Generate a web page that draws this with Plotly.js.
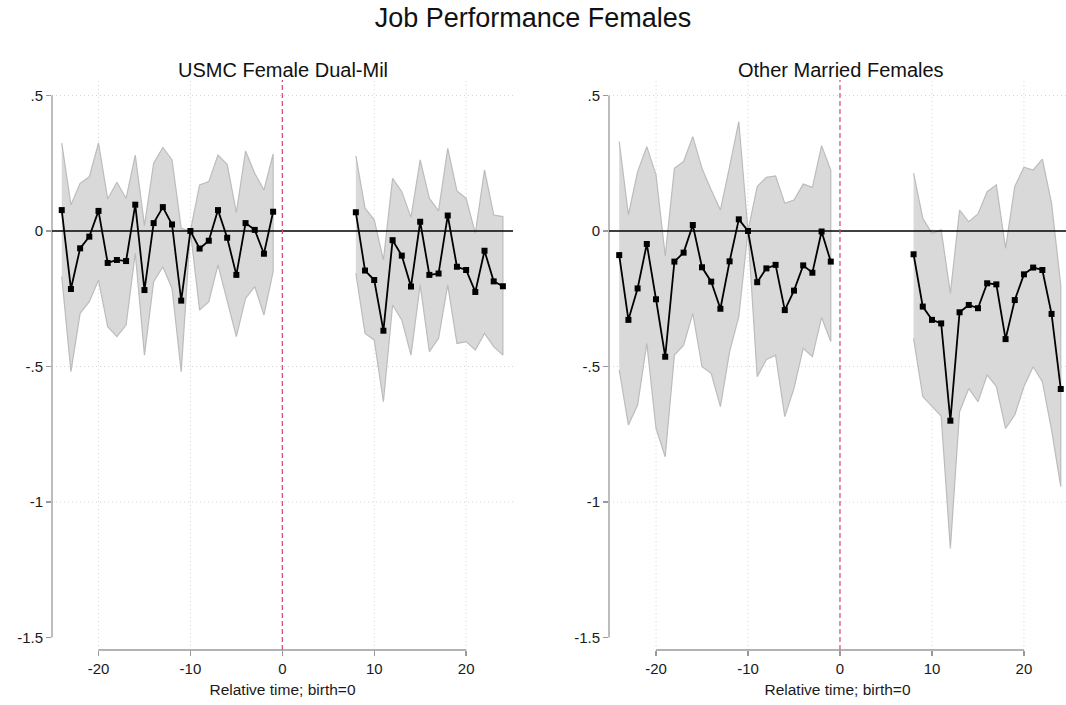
<!DOCTYPE html>
<html>
<head>
<meta charset="utf-8">
<script src="https://cdn.plot.ly/plotly-3.0.1.min.js"></script>
<style>html,body{margin:0;padding:0;background:#fff;}#chart{width:1066px;height:705px;}</style>
</head>
<body>
<div id="chart"></div>
<script>
// ---- Data ----
const relTimePre  = [-24,-23,-22,-21,-20,-19,-18,-17,-16,-15,-14,-13,-12,-11,-10,-9,-8,-7,-6,-5,-4,-3,-2,-1];
const relTimePost = [8,9,10,11,12,13,14,15,16,17,18,19,20,21,22,23,24];

// USMC Female Dual-Mil
const dualPreCoef = [0.077,-0.214,-0.064,-0.021,0.074,-0.118,-0.107,-0.111,0.097,-0.218,0.029,0.088,0.024,-0.257,0.000,-0.065,-0.036,0.077,-0.025,-0.162,0.029,0.004,-0.084,0.071];
const dualPreHi   = [0.324,0.096,0.176,0.200,0.324,0.118,0.180,0.120,0.280,0.020,0.250,0.308,0.262,0.010,0.000,0.170,0.182,0.280,0.246,0.068,0.295,0.213,0.151,0.284];
const dualPreLo   = [-0.168,-0.519,-0.304,-0.261,-0.181,-0.353,-0.390,-0.347,-0.082,-0.458,-0.187,-0.132,-0.212,-0.519,0.000,-0.292,-0.261,-0.125,-0.255,-0.390,-0.249,-0.205,-0.310,-0.150];
const dualPostCoef = [0.069,-0.146,-0.181,-0.368,-0.034,-0.091,-0.205,0.034,-0.162,-0.157,0.057,-0.132,-0.144,-0.225,-0.073,-0.186,-0.204];
const dualPostHi   = [0.277,0.084,0.041,-0.107,0.194,0.145,0.050,0.262,0.120,0.074,0.305,0.148,0.120,-0.009,0.225,0.059,0.053];
const dualPostLo   = [-0.156,-0.378,-0.402,-0.630,-0.273,-0.328,-0.458,-0.199,-0.445,-0.396,-0.199,-0.415,-0.408,-0.439,-0.378,-0.427,-0.458];

// Other Married Females
const othPreCoef = [-0.089,-0.328,-0.212,-0.048,-0.252,-0.464,-0.113,-0.080,0.022,-0.134,-0.187,-0.287,-0.112,0.043,0.000,-0.189,-0.138,-0.125,-0.292,-0.220,-0.127,-0.154,-0.002,-0.113];
const othPreHi   = [0.330,0.059,0.219,0.311,0.207,-0.092,0.231,0.256,0.348,0.231,0.151,0.077,0.237,0.403,0.000,0.164,0.198,0.203,0.102,0.114,0.173,0.161,0.315,0.225];
const othPreLo   = [-0.513,-0.716,-0.642,-0.415,-0.728,-0.833,-0.458,-0.421,-0.304,-0.501,-0.525,-0.648,-0.445,-0.316,0.000,-0.538,-0.474,-0.458,-0.685,-0.581,-0.433,-0.464,-0.319,-0.408];
const othPostCoef = [-0.086,-0.279,-0.328,-0.341,-0.700,-0.300,-0.273,-0.285,-0.193,-0.197,-0.399,-0.255,-0.160,-0.135,-0.144,-0.306,-0.583];
const othPostHi   = [0.213,0.047,-0.009,0.004,-0.230,0.077,0.034,0.063,0.145,0.170,-0.064,0.164,0.235,0.225,0.265,0.102,-0.199];
const othPostLo   = [-0.396,-0.611,-0.648,-0.683,-1.171,-0.667,-0.581,-0.630,-0.531,-0.574,-0.728,-0.679,-0.574,-0.501,-0.556,-0.734,-0.943];

const xTicks = [-20,-10,0,10,20];
const yTicks = [-1.5,-1,-0.5,0,0.5];
const yTickText = ['-1.5','-1','-.5','0','.5'];
const xGrid = [-20,-10,10,20];
const yGrid = [-1,-0.5,0.5];

const mainTitle = 'Job Performance Females';
const panelTitles = ['USMC Female Dual-Mil','Other Married Females'];
const xTitle = 'Relative time; birth=0';

// ---- Build traces ----
const FONT = 'Arial, "Liberation Sans", Helvetica, sans-serif';
function band(x, lo, hi, xa, ya) {
  return {
    x: x.concat(x.slice().reverse()),
    y: hi.concat(lo.slice().reverse()),
    xaxis: xa, yaxis: ya,
    type: 'scatter', mode: 'lines', fill: 'toself',
    fillcolor: '#d9d9d9', line: {color: '#bcbcbc', width: 1.2},
    hoverinfo: 'skip', showlegend: false
  };
}
function line(x, y, xa, ya) {
  return {
    x: x, y: y, xaxis: xa, yaxis: ya,
    type: 'scatter', mode: 'lines+markers',
    line: {color: '#000', width: 1.8},
    marker: {symbol: 'square', size: 6, color: '#000'},
    showlegend: false
  };
}
const traces = [
  band(relTimePre, dualPreLo, dualPreHi, 'x', 'y'),
  band(relTimePost, dualPostLo, dualPostHi, 'x', 'y'),
  band(relTimePre, othPreLo, othPreHi, 'x2', 'y2'),
  band(relTimePost, othPostLo, othPostHi, 'x2', 'y2'),
  line(relTimePre, dualPreCoef, 'x', 'y'),
  line(relTimePost, dualPostCoef, 'x', 'y'),
  line(relTimePre, othPreCoef, 'x2', 'y2'),
  line(relTimePost, othPostCoef, 'x2', 'y2')
];

// ---- Shapes ----
const shapes = [];
const gridStyle = {color:'#d4d4d4', width:1, dash:'1px,3px'};
[['x','y'],['x2','y2']].forEach(([xa, ya]) => {
  yGrid.forEach(v => shapes.push({type:'line', layer:'below', xref: xa+' domain', yref: ya, x0:0, x1:1, y0:v, y1:v, line:gridStyle}));
  xGrid.forEach(v => shapes.push({type:'line', layer:'below', xref: xa, yref: ya+' domain', x0:v, x1:v, y0:0, y1:1, line:gridStyle}));
  // axis lines (spanning tick range only)
  shapes.push({type:'line', xref: xa+' domain', yref: ya, x0:0, x1:0, y0:yTicks[0], y1:yTicks[yTicks.length-1], line:{color:'#9a9a9a', width:1.3}});
  shapes.push({type:'line', xref: xa, yref: ya+' domain', x0:xTicks[0], x1:xTicks[xTicks.length-1], y0:0, y1:0, line:{color:'#9a9a9a', width:1.3}});
  // zero line and event line
  shapes.push({type:'line', layer:'above', xref: xa+' domain', yref: ya, x0:0, x1:1, y0:0, y1:0, line:{color:'#000', width:1.5}});
  shapes.push({type:'line', layer:'above', xref: xa, yref: ya+' domain', x0:0, x1:0, y0:0, y1:1, line:{color:'#d6457a', width:1.2, dash:'5px,3px'}});
});

const yDom = [(705-650)/705, (705-80)/705];
function xAxis(domain, range) {
  return {domain: domain, range: range, tickvals: xTicks, ticktext: xTicks.map(String),
    ticks: 'outside', ticklen: 5, tickcolor: '#9a9a9a', tickwidth: 1.3,
    showgrid: false, zeroline: false, showline: false,
    tickfont: {family: FONT, size: 15, color: '#1a1a1a'},
    title: {text: xTitle, font: {family: FONT, size: 15.5, color: '#1a1a1a'}, standoff: 8}};
}
function yAxis(anchor) {
  return {domain: yDom, range: [-1.546, 0.557], anchor: anchor, tickvals: yTicks, ticktext: yTickText,
    ticks: 'outside', ticklen: 5, tickcolor: '#9a9a9a', tickwidth: 1.3,
    showgrid: false, zeroline: false, showline: false,
    tickfont: {family: FONT, size: 15, color: '#1a1a1a'}};
}

const layout = {
  width: 1066, height: 705,
  margin: {l: 0, r: 0, t: 0, b: 0},
  paper_bgcolor: '#fff', plot_bgcolor: '#fff',
  font: {family: FONT},
  title: {text: mainTitle, x: 0.5, xanchor: 'center', y: 1 - 18/705, yanchor: 'middle', yref: 'paper',
          font: {family: FONT, size: 27, color: '#111'}},
  xaxis: Object.assign(xAxis([52/1066, 513/1066], [-25.06, 25.1]), {anchor: 'y'}),
  yaxis: yAxis('x'),
  xaxis2: Object.assign(xAxis([609/1066, 1], [-25.11, 24.57]), {anchor: 'y2'}),
  yaxis2: yAxis('x2'),
  shapes: shapes,
  annotations: [
    {text: panelTitles[0], xref: 'paper', yref: 'paper', x: 283/1066, y: (705-70)/705, xanchor: 'center', yanchor: 'middle', showarrow: false, font: {family: FONT, size: 20, color: '#111'}},
    {text: panelTitles[1], xref: 'paper', yref: 'paper', x: 841/1066, y: (705-70)/705, xanchor: 'center', yanchor: 'middle', showarrow: false, font: {family: FONT, size: 20, color: '#111'}}
  ],
  showlegend: false
};

Plotly.newPlot('chart', traces, layout, {displayModeBar: false, staticPlot: true});
</script>
</body>
</html>
